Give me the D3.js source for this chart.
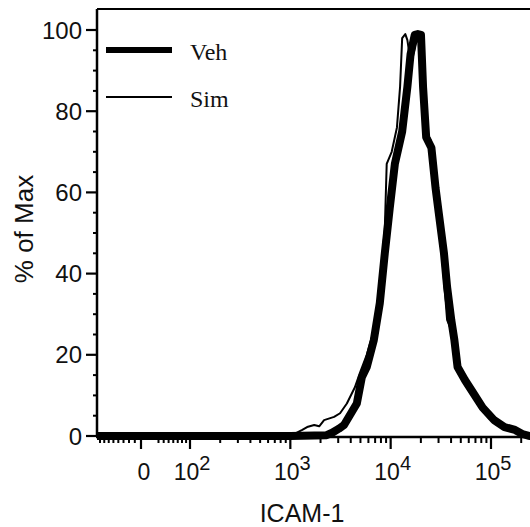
<!DOCTYPE html>
<html><head><meta charset="utf-8">
<script src="https://cdn.jsdelivr.net/npm/d3@7"></script>
<style>body{margin:0;background:#fff}svg{display:block}</style>
</head><body>
<svg id="c" width="530" height="527"></svg>
<script>
// ---- data ----
const seriesNames = ["Veh", "Sim"];
const vehX = [-90, 1000, 2300, 2610, 3050, 3430, 4600, 5160, 5780, 6790, 7790, 8740, 9780, 11010, 13020, 14680, 15780, 17380, 18660, 20050, 21030, 22590, 25470, 28040, 30130, 33980, 36520, 40180, 43170, 46420, 54940, 66580, 82580, 107400, 136400, 173600, 205000, 240000, 400000];
const vehY = [0, 0, 0.2, 0.8, 1.8, 2.7, 8, 14.5, 17, 23.6, 32.7, 45, 56, 67, 75, 86, 94, 98.8, 99, 98.8, 86, 73.6, 71, 61, 55, 45, 36.7, 28.6, 23.6, 17, 13.8, 10.6, 7, 3.9, 2.2, 1.5, 0.5, 0, 0];
const simX = [-90, 900, 1050, 1315, 1470, 1730, 1940, 2170, 2730, 3130, 3660, 4400, 4930, 5780, 6790, 7790, 8740, 9130, 10240, 11550, 12410, 13020, 13990, 14680, 15400, 16560, 17780, 19100, 20050, 22070, 24900, 28040, 32390, 36520, 40180, 45310, 57550, 73280, 95330, 118300, 150300, 182000, 220000, 400000];
const simY = [0, 0, 0.3, 1.5, 2.2, 2.7, 2.4, 3.9, 4.7, 5.6, 8, 12, 15.5, 20, 26, 36.7, 51, 67, 70, 76, 86, 98, 99, 97.5, 94, 93, 97, 99, 97.5, 75, 73, 61, 45, 28.6, 26, 17, 12, 8, 4.4, 2.7, 2, 0.6, 0, 0];

const xMajorTicks = [0, 100, 1000, 10000, 100000];
const xMajorExp = [null, 2, 3, 4, 5];
const xMinorTicks = [-80, -70, -60, -50, -40, -30, -20, -10, 30, 40, 50, 60, 70, 80, 90,
  200, 300, 400, 500, 600, 700, 800, 900,
  2000, 3000, 4000, 5000, 6000, 7000, 8000, 9000,
  20000, 30000, 40000, 50000, 60000, 70000, 80000, 90000, 200000];
const yMajorTicks = [0, 20, 40, 60, 80, 100];
const yMinorTicks = [5, 10, 15, 25, 30, 35, 45, 50, 55, 65, 70, 75, 85, 90, 95];
const xTitle = "ICAM-1";
const yTitle = "% of Max";

// ---- layout ----
const L = 97, R = 540, T = 9, B = 436;
const svg = d3.select("#c");

const xHigh = d3.scaleLog().domain([100, 100000]).range([190, 491]);
const xLow = d3.scaleSymlog().constant(150).domain([0, 100]).range([141, 190]);
const X = v => (v >= 100 ? xHigh(v) : xLow(v));
const y = d3.scaleLinear().domain([0, 100]).range([B, 30]);

const font = "Liberation Sans, Arial, Helvetica, sans-serif";

svg.append("defs").append("clipPath").attr("id", "clip")
  .append("rect").attr("x", L).attr("y", T).attr("width", R - L).attr("height", B - T + 10);

// curves
const line = d3.line().x(d => X(d[0])).y(d => y(d[1]));
const veh = vehX.map((v, i) => [v, vehY[i]]);
const sim = simX.map((v, i) => [v, simY[i]]);
const g = svg.append("g").attr("clip-path", "url(#clip)");
g.append("path").datum(veh).attr("d", line).attr("fill", "none").attr("stroke", "#000")
  .attr("stroke-width", 8).attr("stroke-linejoin", "round");
g.append("path").datum(sim).attr("d", line).attr("fill", "none").attr("stroke", "#000")
  .attr("stroke-width", 2).attr("stroke-linejoin", "round");

// frame
svg.append("line").attr("x1", L).attr("x2", 530).attr("y1", T).attr("y2", T).attr("stroke", "#000").attr("stroke-width", 2);
svg.append("line").attr("x1", L).attr("x2", L).attr("y1", T).attr("y2", B + 1).attr("stroke", "#000").attr("stroke-width", 2.5);
svg.append("line").attr("x1", L - 1).attr("x2", 530).attr("y1", B + 1).attr("y2", B + 1).attr("stroke", "#000").attr("stroke-width", 2.5);

// x ticks
svg.selectAll(".xmaj").data(xMajorTicks).enter().append("line")
  .attr("x1", d => X(d)).attr("x2", d => X(d)).attr("y1", B).attr("y2", B + 13)
  .attr("stroke", "#000").attr("stroke-width", 2.2);
svg.selectAll(".xmin").data(xMinorTicks.filter(d => X(d) >= L && X(d) <= 530)).enter().append("line")
  .attr("x1", d => X(d)).attr("x2", d => X(d)).attr("y1", B).attr("y2", B + 7)
  .attr("stroke", "#000").attr("stroke-width", 2);
const xl = svg.selectAll(".xlab").data(xMajorTicks).enter().append("text")
  .attr("x", d => X(d) + (d === 0 ? 3 : 2)).attr("y", 480)
  .attr("text-anchor", "middle").attr("font-family", font).attr("font-size", 23).attr("fill", "#111");
xl.each(function (d, i) {
  const t = d3.select(this);
  if (xMajorExp[i] === null) { t.text("0"); return; }
  t.append("tspan").text("10");
  t.append("tspan").attr("dy", -10).attr("font-size", 20).text(xMajorExp[i]);
});

// y ticks
svg.selectAll(".ymaj").data(yMajorTicks).enter().append("line")
  .attr("x1", L - 11).attr("x2", L).attr("y1", d => y(d)).attr("y2", d => y(d))
  .attr("stroke", "#000").attr("stroke-width", 2.2);
svg.selectAll(".ymin").data(yMinorTicks).enter().append("line")
  .attr("x1", L - 4).attr("x2", L).attr("y1", d => y(d)).attr("y2", d => y(d))
  .attr("stroke", "#000").attr("stroke-width", 2);
svg.selectAll(".ylab").data(yMajorTicks).enter().append("text")
  .attr("x", 82).attr("y", d => y(d) + 8.5).attr("text-anchor", "end")
  .attr("font-family", font).attr("font-size", 24).attr("fill", "#111").text(d => d);

// titles
svg.append("text").attr("x", 302).attr("y", 522).attr("text-anchor", "middle")
  .attr("font-family", font).attr("font-size", 25).attr("fill", "#111").text(xTitle);
svg.append("text").attr("transform", "translate(33,229) rotate(-90)").attr("text-anchor", "middle")
  .attr("font-family", font).attr("font-size", 26).attr("fill", "#111").text(yTitle);

// legend
const legW = [6, 2];
seriesNames.forEach((n, i) => {
  const ly = 50 + i * 47;
  svg.append("line").attr("x1", 106).attr("x2", 172).attr("y1", ly).attr("y2", ly)
    .attr("stroke", "#000").attr("stroke-width", legW[i]);
  svg.append("text").attr("x", 190).attr("y", ly + 10)
    .attr("font-family", "Liberation Serif, Times New Roman, serif").attr("font-size", 24)
    .attr("fill", "#111").text(n);
});
</script>
</body></html>
